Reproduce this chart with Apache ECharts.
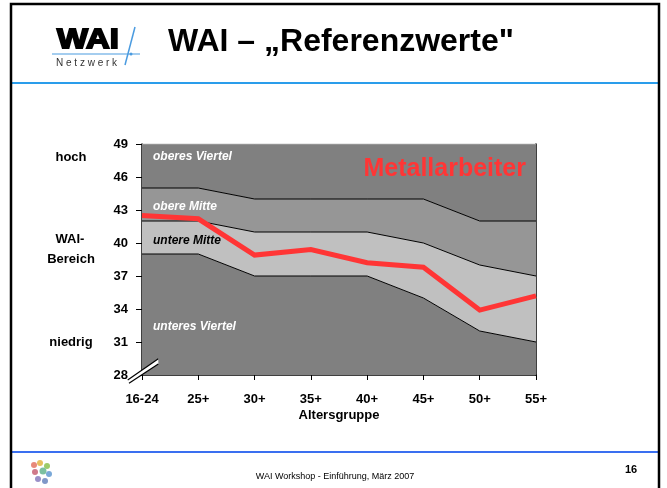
<!DOCTYPE html>
<html>
<head>
<meta charset="utf-8">
<script src="https://cdn.jsdelivr.net/npm/echarts@6/dist/echarts.min.js"></script>
<style>
html,body{margin:0;padding:0;background:#fff;}
#c{width:667px;height:488px;}
</style>
</head>
<body>
<div id="c"></div>
<script>
var categories = ['16-24','25+','30+','35+','40+','45+','50+','55+'];
var lowerQuartile = [39,39,37,37,37,35,32,31];
var median = [42,42,41,41,41,40,38,37];
var upperQuartile = [45,45,44,44,44,44,42,42];
var metallarbeiter = [42.5,42.2,38.9,39.4,38.2,37.8,33.9,35.2];
var yTicks = [28,31,34,37,40,43,46,49];
var yMin = 28, yMax = 49;

var F = '"Liberation Sans", Arial, sans-serif';
var chart = echarts.init(document.getElementById('c'), null, {renderer:'canvas'});

var bandMid = median.map(function(v,i){return +(v-lowerQuartile[i]).toFixed(2);});
var bandUp = upperQuartile.map(function(v,i){return +(v-median[i]).toFixed(2);});
var bandTop = upperQuartile.map(function(v){return +(yMax-v).toFixed(2);});

function areaSeries(name,data,fill,lineColor){
  return {name:name,type:'line',stack:'band',data:data,symbol:'none',silent:true,
    lineStyle:{color:lineColor,width:1},areaStyle:{color:fill,opacity:1},z:1};
}

var option = {
  animation:false,
  backgroundColor:'#ffffff',
  grid:{left:142,right:131,top:144,bottom:113,containLabel:false},
  xAxis:{type:'category',data:categories,boundaryGap:false,
    name:'Altersgruppe',nameLocation:'middle',nameGap:34,
    nameTextStyle:{fontFamily:F,fontWeight:'bold',fontSize:13,color:'#000'},
    axisLine:{lineStyle:{color:'#000',width:1.5}},
    axisTick:{length:5,lineStyle:{color:'#000'}},
    axisLabel:{fontFamily:F,fontWeight:'bold',fontSize:13,color:'#000',margin:18}},
  yAxis:[{type:'value',min:yMin,max:yMax,
    axisLine:{show:true,lineStyle:{color:'#000',width:1.5}},
    axisTick:{show:true,length:6,customValues:yTicks,lineStyle:{color:'#000'}},
    axisLabel:{customValues:yTicks,fontFamily:F,fontWeight:'bold',fontSize:13,color:'#000',margin:14},
    splitLine:{show:false}},
   {type:'value',min:yMin,max:yMax,position:'right',
    axisLine:{show:true,lineStyle:{color:'#000',width:1.5}},
    axisTick:{show:false},axisLabel:{show:false},splitLine:{show:false}}],
  series:[
    areaSeries('unteres Viertel',lowerQuartile,'#808080','#000'),
    areaSeries('untere Mitte',bandMid,'#C0C0C0','#000'),
    areaSeries('obere Mitte',bandUp,'#969696','#000'),
    areaSeries('oberes Viertel',bandTop,'#808080','#A8A8A8'),
    {name:'Metallarbeiter',type:'line',data:metallarbeiter,symbol:'none',z:5,
     lineStyle:{color:'#FF3535',width:5,join:'miter'}}
  ],
  graphic:[
    // slide frame
    {type:'rect',shape:{x:11,y:4,width:648,height:500},style:{fill:'none',stroke:'#000',lineWidth:2.5},z:100},
    {type:'line',shape:{x1:12,y1:83,x2:658,y2:83},style:{stroke:'#2A9DEB',lineWidth:2}},
    {type:'line',shape:{x1:12,y1:452,x2:658,y2:452},style:{stroke:'#3A6FF0',lineWidth:2}},
    // logo
    {type:'text',x:57,y:40,scaleX:1.17,style:{text:'WAI',x:0,y:0,font:'bold 28px '+F,fill:'#000',stroke:'#000',lineWidth:1.8,verticalAlign:'middle'}},
    {type:'line',shape:{x1:52,y1:54,x2:140,y2:54},style:{stroke:'#4A9BE0',lineWidth:1.2}},
    {type:'line',shape:{x1:135,y1:27,x2:125,y2:65},style:{stroke:'#4A9BE0',lineWidth:1.5}},
    {type:'circle',shape:{cx:131,cy:54,r:1.5},style:{fill:'#4A9BE0'}},
    {type:'text',style:{text:'N e t z w e r k',x:56,y:63,font:'10px '+F,fill:'#333',verticalAlign:'middle'}},
    // title
    {type:'text',style:{text:'WAI – „Referenzwerte"',x:168,y:42,font:'bold 32px '+F,fill:'#000',verticalAlign:'middle'}},
    // left labels
    {type:'text',style:{text:'hoch',x:71,y:157,font:'bold 13px '+F,fill:'#000',align:'center',verticalAlign:'middle'}},
    {type:'text',style:{text:'WAI-',x:70,y:239,font:'bold 13px '+F,fill:'#000',align:'center',verticalAlign:'middle'}},
    {type:'text',style:{text:'Bereich',x:71,y:259,font:'bold 13px '+F,fill:'#000',align:'center',verticalAlign:'middle'}},
    {type:'text',style:{text:'niedrig',x:71,y:342,font:'bold 13px '+F,fill:'#000',align:'center',verticalAlign:'middle'}},
    // band labels
    {type:'text',z:10,style:{text:'oberes Viertel',x:153,y:157,font:'italic bold 12px '+F,fill:'#fff',verticalAlign:'middle'}},
    {type:'text',z:10,style:{text:'obere Mitte',x:153,y:207,font:'italic bold 12px '+F,fill:'#fff',verticalAlign:'middle'}},
    {type:'text',z:10,style:{text:'untere Mitte',x:153,y:241,font:'italic bold 12px '+F,fill:'#000',verticalAlign:'middle'}},
    {type:'text',z:10,style:{text:'unteres Viertel',x:153,y:327,font:'italic bold 12px '+F,fill:'#fff',verticalAlign:'middle'}},
    {type:'text',z:10,style:{text:'Metallarbeiter',x:526,y:169,font:'bold 25px '+F,fill:'#FF3535',align:'right',verticalAlign:'middle'}},
    // axis break
    {type:'polygon',z:20,shape:{points:[[127.7,380],[158.3,358.7],[158.3,364],[129,383.3]]},style:{fill:'#fff'}},
    {type:'line',z:21,shape:{x1:127.7,y1:380,x2:158.3,y2:358.7},style:{stroke:'#000',lineWidth:1.2}},
    {type:'line',z:21,shape:{x1:129,y1:383.3,x2:158.3,y2:364},style:{stroke:'#000',lineWidth:1.2}},
    // footer
    {type:'text',style:{text:'WAI Workshop - Einführung, März 2007',x:335,y:477,font:'9px '+F,fill:'#000',align:'center',verticalAlign:'middle'}},
    {type:'text',style:{text:'16',x:631,y:470,font:'bold 11px '+F,fill:'#000',align:'center',verticalAlign:'middle'}},
    // footer logo (approx.)
    {type:'circle',shape:{cx:34,cy:465,r:3},style:{fill:'#E88A7A'}},
    {type:'circle',shape:{cx:40,cy:463,r:3},style:{fill:'#E8C060'}},
    {type:'circle',shape:{cx:47,cy:466,r:3},style:{fill:'#9CCB6A'}},
    {type:'circle',shape:{cx:35,cy:472,r:3},style:{fill:'#D07A8A'}},
    {type:'circle',shape:{cx:43,cy:471,r:3.5},style:{fill:'#7CC0A0'}},
    {type:'circle',shape:{cx:49,cy:474,r:3},style:{fill:'#7AA8D8'}},
    {type:'circle',shape:{cx:38,cy:479,r:3},style:{fill:'#9A90C8'}},
    {type:'circle',shape:{cx:45,cy:481,r:3},style:{fill:'#8098C8'}}
  ]
};
chart.setOption(option);
</script>
</body>
</html>
